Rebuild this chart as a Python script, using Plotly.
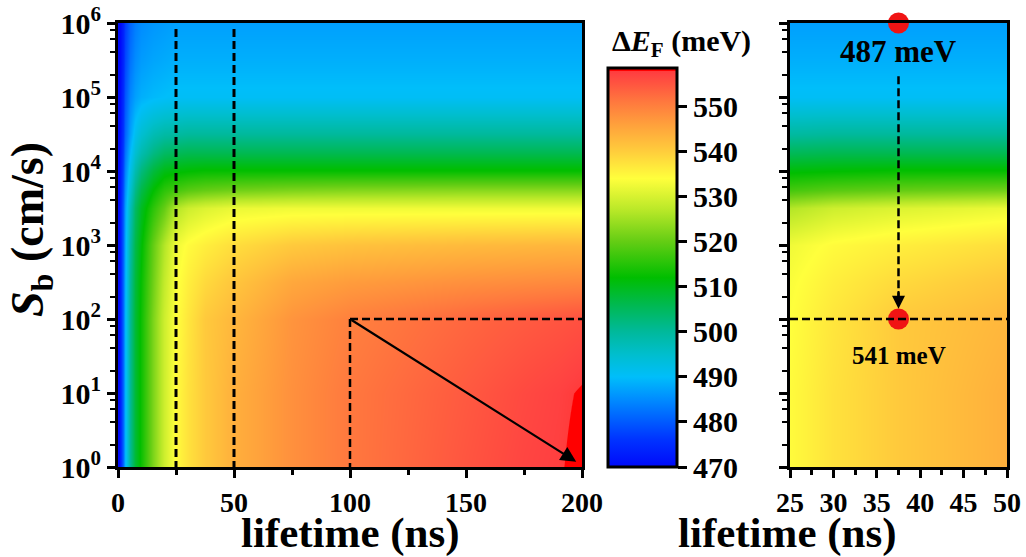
import numpy as np
import plotly.graph_objects as go

# ---------------- data ----------------
lifetime_ns = [0, 1, 2, 3, 5, 7.5, 10, 15, 20, 25, 30, 37.5, 50, 75, 100, 150, 175, 190, 200]
sb_exponent = [0, 1, 2, 2.5, 3, 3.5, 3.75, 4, 4.25, 4.5, 5, 5.5, 6]   # log10(Sb / cm s^-1)

dEF_s0_0 = [468, 473, 481, 489, 500.5, 508, 513, 522, 529, 534.5, 537.5, 540.5, 544, 548, 551, 555, 556.8, 557.5, 558.8]
dEF_s1_0 = [468, 473, 481, 489, 500.5, 508, 513, 522, 529, 534.5, 537.5, 540.5, 544, 548, 551, 554.5, 556.3, 557.2, 558.1]
dEF_s2_0 = [468, 473, 481, 489, 500.5, 508, 513, 522, 529, 534, 537, 540.5, 543, 547.5, 550, 553, 554.3, 555, 555.5]
dEF_s2_5 = [468, 473, 481, 488.5, 500, 507.5, 512.5, 521, 528, 533.5, 536, 538.5, 541, 545, 546.5, 548, 548.5, 548.8, 549]
dEF_s3_0 = [468, 473, 480.5, 488, 499, 506.5, 511.5, 520, 526.5, 532.5, 534.5, 536, 538, 540.5, 541.5, 542.5, 542.8, 543, 543]
dEF_s3_5 = [468, 473, 480, 487, 497, 504.5, 509.5, 515.5, 520, 526.5, 529, 530.5, 532, 532.5, 532.5, 532.5, 532.5, 532.5, 532.5]
dEF_s3_75 = [468, 472.5, 479, 485.5, 494.5, 501.5, 506.5, 512, 515.5, 517.5, 519, 520, 521, 522, 522.5, 523, 523, 523, 523]
dEF_s4_0 = [468, 472, 478, 484, 492, 498, 502.5, 507.5, 510.5, 511.5, 512, 512.5, 512.5, 512.5, 512.5, 512.5, 512.5, 512.5, 512.5]
dEF_s4_25 = [468, 471.5, 477, 482.5, 489.5, 494.5, 498, 502, 504.5, 505.5, 506, 506, 506, 506, 506, 506, 506, 506, 506]
dEF_s4_5 = [468, 471, 476, 481, 487, 491.5, 494.5, 497.5, 499, 499.5, 500, 500, 500, 500, 500, 500, 500, 500, 500]
dEF_s5_0 = [468, 470.5, 475, 479.5, 484.5, 487, 488.5, 489.5, 490, 490.5, 490.5, 490.5, 490.5, 490.5, 490.5, 490.5, 490.5, 490.5, 490.5]
dEF_s5_5 = [468, 470, 474, 478, 482.5, 485, 486.5, 487.5, 488, 488.5, 488.5, 488.5, 488.5, 488.5, 488.5, 488.5, 488.5, 488.5, 488.5]
dEF_s6_0 = [468, 470, 473.5, 477, 481, 483.5, 485, 486, 486.5, 487, 487, 487, 487, 487, 487, 487, 487, 487, 487]

dEF_grid = [dEF_s0_0, dEF_s1_0, dEF_s2_0, dEF_s2_5, dEF_s3_0, dEF_s3_5, dEF_s3_75,
            dEF_s4_0, dEF_s4_25, dEF_s4_5, dEF_s5_0, dEF_s5_5, dEF_s6_0]

cbar_ticks = [470, 480, 490, 500, 510, 520, 530, 540, 550]
x_ticks_left = [0, 50, 100, 150, 200]
x_ticks_right = [25, 30, 35, 40, 45, 50]
y_tick_exponents = [0, 1, 2, 3, 4, 5, 6]

marked_lifetime = 37.5
marked_exponents = [6, 2]
marked_labels = ["487 meV", "541 meV"]
guide_lifetimes = [25, 50]
box_corner = (100, 2)
arrow_tip = (197.5, 0.07)

ZMIN, ZMAX = 470, 558.5

# ---------------- colour scale ----------------
stops = [
    (470, (0, 10, 250)), (476, (0, 50, 255)), (480, (0, 90, 255)), (485, (0, 140, 255)),
    (490, (0, 190, 250)), (495, (0, 190, 205)), (500, (0, 185, 155)), (506, (0, 185, 80)),
    (512, (0, 190, 0)), (520, (100, 205, 20)), (527, (185, 232, 40)), (534, (255, 255, 60)),
    (540, (255, 205, 60)), (546, (255, 160, 60)), (551, (255, 120, 62)), (557.2, (255, 65, 65)),
    (557.75, (255, 60, 60)), (557.8, (255, 0, 0)), (558.5, (255, 0, 0)),
]
colorscale = [[(v - ZMIN) / (ZMAX - ZMIN), "rgb(%d,%d,%d)" % c] for v, c in stops]

FONT = "Liberation Serif"
W, H = 1026, 557

def px(x):
    return x / W

def py(y):
    return 1 - y / H

fig = go.Figure()

common = dict(
    z=dEF_grid, x=lifetime_ns, y=sb_exponent,
    colorscale=colorscale, zmin=ZMIN, zmax=ZMAX, zauto=False,
    contours=dict(start=470, end=558, size=1, coloring="heatmap", showlines=False),
    line=dict(width=0), hoverinfo="skip",
)

fig.add_trace(go.Contour(
    **common, xaxis="x", yaxis="y", showscale=True,
    colorbar=dict(
        x=px(608), xanchor="left", y=py(467), yanchor="bottom",
        len=399 / H, lenmode="fraction", thickness=69, xpad=0, ypad=0,
        outlinewidth=3, outlinecolor="black",
        tickmode="array", tickvals=cbar_ticks, ticks="outside", ticklen=9,
        tickwidth=2.5, tickcolor="black",
        tickfont=dict(family=FONT, size=30, color="black", weight="bold"),
    ),
))
fig.add_trace(go.Contour(**common, xaxis="x2", yaxis="y2", showscale=False))

fig.add_trace(go.Scatter(
    x=[marked_lifetime] * len(marked_exponents), y=marked_exponents,
    mode="markers", marker=dict(size=21, color="rgb(240,20,20)"),
    xaxis="x2", yaxis="y2", cliponaxis=False, hoverinfo="skip", showlegend=False,
))

minor_log = [n + np.log10(k) for n in range(6) for k in (2, 4, 6, 8)]

xtick_font = dict(family=FONT, size=28, color="black", weight="bold")
ytick_font = dict(family=FONT, size=30, color="black", weight="bold")
ydom = [py(467), py(23)]

def xaxis_style(dom, rng, ticks, minor_dt):
    return dict(
        domain=dom, range=rng, tickmode="array", tickvals=ticks,
        ticks="outside", ticklen=8, tickwidth=2.5, tickcolor="black",
        minor=dict(dtick=minor_dt, ticks="outside", ticklen=5, tickwidth=2.5, tickcolor="black", showgrid=False),
        showline=True, linewidth=3, linecolor="black", mirror=True,
        showgrid=False, zeroline=False, tickfont=xtick_font,
    )

def yaxis_style(anchor, labels):
    return dict(
        domain=ydom, range=[0, 6], anchor=anchor, tickmode="array",
        tickvals=y_tick_exponents,
        ticktext=["10<sup>%d</sup>" % e for e in y_tick_exponents],
        showticklabels=labels,
        ticks="outside", ticklen=8, tickwidth=2.5, tickcolor="black",
        minor=dict(tickvals=minor_log, ticks="outside", ticklen=5, tickwidth=2, tickcolor="black", showgrid=False),
        showline=True, linewidth=3, linecolor="black", mirror=True,
        showgrid=False, zeroline=False, tickfont=ytick_font,
    )

fig.update_layout(
    width=W, height=H, margin=dict(l=0, r=0, t=0, b=0, autoexpand=False),
    paper_bgcolor="white", plot_bgcolor="white", showlegend=False,
    font=dict(family=FONT, color="black"),
    xaxis=xaxis_style([px(118), px(582)], [0, 200], x_ticks_left, 25) | dict(anchor="y"),
    xaxis2=xaxis_style([px(790), px(1007)], [25, 50], x_ticks_right, 2.5) | dict(anchor="y2"),
    yaxis=yaxis_style("x", True),
    yaxis2=yaxis_style("x2", False),
)

dash = "8px,4px"
shapes = []
for t in guide_lifetimes:
    shapes.append(dict(type="line", xref="x", yref="y", x0=t, x1=t, y0=5.92, y1=0,
                       line=dict(color="black", width=3, dash=dash)))
shapes.append(dict(type="line", xref="x", yref="y", x0=box_corner[0], x1=200, y0=box_corner[1], y1=box_corner[1],
                   line=dict(color="black", width=2.5, dash=dash)))
shapes.append(dict(type="line", xref="x", yref="y", x0=box_corner[0], x1=box_corner[0], y0=box_corner[1], y1=0,
                   line=dict(color="black", width=2.5, dash=dash)))
shapes.append(dict(type="line", xref="x2", yref="y2", x0=25, x1=50, y0=marked_exponents[1], y1=marked_exponents[1],
                   line=dict(color="black", width=2.5, dash=dash)))
shapes.append(dict(type="line", xref="x2", yref="y2", x0=marked_lifetime, x1=marked_lifetime, y0=5.28, y1=2.3,
                   line=dict(color="black", width=2.5, dash=dash)))
fig.update_layout(shapes=shapes)

ann = []
ann.append(dict(x=arrow_tip[0], y=arrow_tip[1], ax=box_corner[0], ay=box_corner[1],
                xref="x", yref="y", axref="x", ayref="y", text="", showarrow=True,
                arrowhead=2, arrowsize=1.4, arrowwidth=2.2, arrowcolor="black"))
ann.append(dict(x=marked_lifetime, y=2.14, ax=marked_lifetime, ay=2.4,
                xref="x2", yref="y2", axref="x2", ayref="y2", text="", showarrow=True,
                arrowhead=2, arrowsize=1.3, arrowwidth=2, arrowcolor="black"))
ann.append(dict(x=marked_lifetime, y=5.61, xref="x2", yref="y2", text="<b>%s</b>" % marked_labels[0],
                showarrow=False, font=dict(family=FONT, size=31, color="black")))
ann.append(dict(x=marked_lifetime, y=1.51, xref="x2", yref="y2", text="<b>%s</b>" % marked_labels[1],
                showarrow=False, font=dict(family=FONT, size=25, color="black")))
ann.append(dict(x=px((118 + 582) / 2), y=py(533), xref="paper", yref="paper",
                text="<b>lifetime (ns)</b>", showarrow=False, yanchor="middle",
                font=dict(family=FONT, size=43, color="black")))
ann.append(dict(x=px((790 + 1007) / 2), y=py(533), xref="paper", yref="paper",
                text="<b>lifetime (ns)</b>", showarrow=False, yanchor="middle",
                font=dict(family=FONT, size=43, color="black")))
ann.append(dict(x=px(31), y=py(230), xref="paper", yref="paper",
                text="<b><i>S</i><sub>b</sub> (cm/s)</b>", showarrow=False, textangle=-90,
                xanchor="center", yanchor="middle",
                font=dict(family=FONT, size=46, color="black")))
ann.append(dict(x=px(681), y=py(43), xref="paper", yref="paper",
                text="<b>Δ<i>E</i><sub>F</sub> (meV)</b>", showarrow=False,
                xanchor="center", yanchor="middle",
                font=dict(family=FONT, size=30, color="black")))
fig.update_layout(annotations=ann)

fig.write_html(
    "out.html",
    config={"displayModeBar": False},
    post_script="document.body.style.margin='0px';document.body.style.overflow='hidden';",
)
